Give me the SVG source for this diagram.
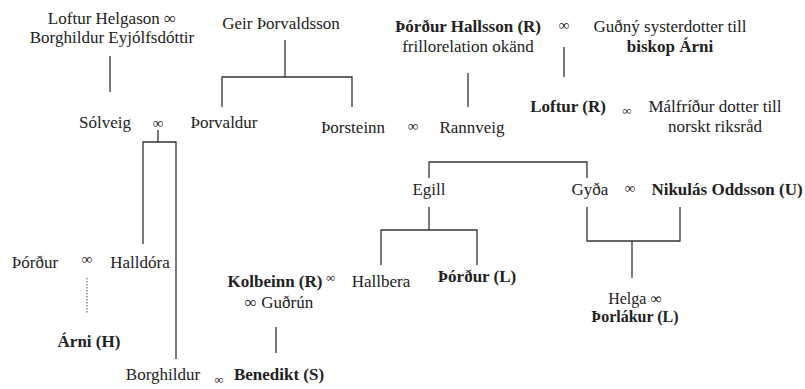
<svg xmlns="http://www.w3.org/2000/svg" width="805" height="389" viewBox="0 0 805 389">
<style>
text{font-family:'Liberation Serif','DejaVu Serif','Times New Roman',serif;font-size:17px;fill:#222}
.b{font-weight:bold}
.m{text-anchor:middle}
.inf{font-size:15px}
.sm{font-size:13px}
.c line,.c polyline{stroke:#333;stroke-width:1.3;fill:none}
.c .dot{stroke:#777;stroke-dasharray:1.5 1.5}
</style>
<rect width="805" height="389" fill="#fff"/>
<g class="c" id="connectors">
<line x1="110" y1="56" x2="110" y2="92"/>
<line x1="285" y1="40" x2="285" y2="77"/>
<polyline points="222,107 222,77 352,77 352,107"/>
<line x1="468" y1="73" x2="468" y2="107"/>
<line x1="564" y1="47" x2="564" y2="77"/>
<line x1="158" y1="130" x2="158" y2="142"/>
<polyline points="143,244 143,142 176,142 176,359"/>
<line class="dot" x1="87" y1="278" x2="87" y2="313"/>
<line x1="276" y1="327" x2="276" y2="353"/>
<polyline points="429,178 429,162 587,162 587,178"/>
<line x1="429" y1="207" x2="429" y2="230"/>
<polyline points="381,265 381,230 477,230 477,265"/>
<polyline points="587,207 587,241 680,241 680,207"/>
<line x1="632" y1="241" x2="632" y2="278"/>
</g>
<g font-family="Liberation Serif, DejaVu Serif, serif">
<g id="loftur-helgason"><text class="m" x="112" y="24">Loftur Helgason ∞</text><text class="m" x="112" y="43">Borghildur Eyjólfsdóttir</text></g>
<g id="geir"><text class="m" x="281" y="29">Geir Þorvaldsson</text></g>
<g id="thordur-hallsson"><text class="m b" x="468" y="32">Þórður Hallsson (R)</text><text class="m" x="468" y="52">frillorelation okänd</text></g>
<g id="inf1"><text class="m inf" x="564" y="30">∞</text></g>
<g id="gudny"><text class="m" x="670" y="32">Guðný systerdotter till</text><text class="m b" x="670" y="52">biskop Árni</text></g>
<g id="loftur-r"><text class="m b" x="568" y="112">Loftur (R)</text></g>
<g id="inf2"><text class="m sm" x="627" y="115">∞</text></g>
<g id="malfridur"><text class="m" x="715" y="112">Málfríður dotter till</text><text class="m" x="715" y="132">norskt riksråd</text></g>
<g id="solveig"><text class="m" x="105" y="128">Sólveig</text></g>
<g id="inf3"><text class="m inf" x="158" y="128">∞</text></g>
<g id="thorvaldur"><text class="m" x="224" y="128">Þorvaldur</text></g>
<g id="thorsteinn"><text class="m" x="353" y="133">Þorsteinn</text></g>
<g id="inf4"><text class="m inf" x="413" y="131">∞</text></g>
<g id="rannveig"><text class="m" x="472" y="133">Rannveig</text></g>
<g id="egill"><text class="m" x="429" y="195">Egill</text></g>
<g id="gyda"><text class="m" x="590" y="195">Gyða</text></g>
<g id="inf5"><text class="m inf" x="630" y="193">∞</text></g>
<g id="nikulas"><text class="m b" x="727" y="195">Nikulás Oddsson (U)</text></g>
<g id="thordur"><text class="m" x="35" y="268">Þórður</text></g>
<g id="inf6"><text class="m inf" x="87" y="264">∞</text></g>
<g id="halldora"><text class="m" x="140" y="268">Halldóra</text></g>
<g id="arni"><text class="m b" x="89" y="347">Árni (H)</text></g>
<g id="kolbeinn"><text class="m b" x="275" y="287">Kolbeinn (R)</text><text class="sm" x="326" y="282">∞</text><text class="m" x="279" y="308">∞ Guðrún</text></g>
<g id="hallbera"><text class="m" x="381" y="287">Hallbera</text></g>
<g id="thordur-l"><text class="m b" x="477" y="282">Þórður (L)</text></g>
<g id="helga"><text class="m" x="635" y="304" style="font-size:16px">Helga ∞</text><text class="m b" x="635" y="322" style="font-size:16px">Þorlákur (L)</text></g>
<g id="borghildur"><text class="m" x="163" y="380">Borghildur</text></g>
<g id="inf7"><text class="m sm" x="219" y="384">∞</text></g>
<g id="benedikt"><text class="m b" x="279" y="380">Benedikt (S)</text></g>
</g>
</svg>
